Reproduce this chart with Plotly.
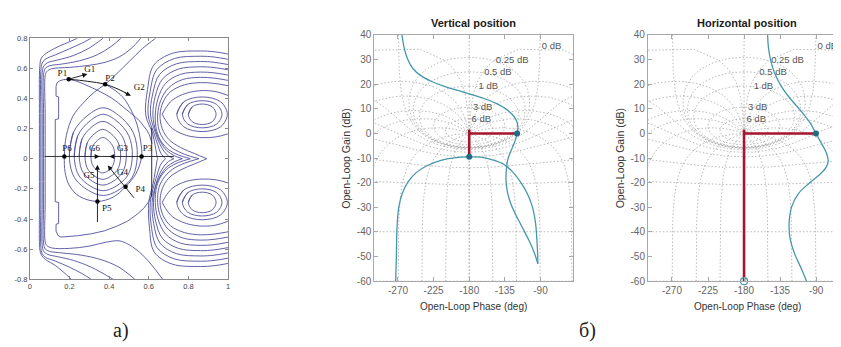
import numpy as np
import plotly.graph_objects as go

W, H = 841, 347

# ====================== panel a): flux contours ======================
bundle_lines = [
    ([0.21, 0.13, 0.08, 0.058, 0.05, 0.048, 0.048, 0.048, 0.048, 0.048, 0.05, 0.057, 0.082, 0.14, 0.207, 0.241],
     [-0.8, -0.71, -0.67, -0.64, -0.6, -0.55, -0.3, 0.0, 0.3, 0.55, 0.612, 0.666, 0.699, 0.742, 0.78, 0.8]),
    ([0.31, 0.26, 0.2, 0.13, 0.08, 0.062, 0.055, 0.055, 0.055, 0.055, 0.055, 0.062, 0.08, 0.13, 0.2, 0.26, 0.31],
     [-0.8, -0.76, -0.72, -0.68, -0.655, -0.63, -0.58, -0.3, 0.0, 0.3, 0.58, 0.635, 0.662, 0.69, 0.73, 0.765, 0.8]),
    ([0.42, 0.31, 0.22, 0.14, 0.09, 0.07, 0.062, 0.062, 0.062, 0.062, 0.062, 0.07, 0.09, 0.14, 0.22, 0.3, 0.37],
     [-0.8, -0.72, -0.675, -0.65, -0.635, -0.615, -0.57, -0.3, 0.0, 0.3, 0.57, 0.615, 0.638, 0.655, 0.685, 0.735, 0.8]),
    ([0.53, 0.45, 0.36, 0.26, 0.16, 0.1, 0.078, 0.069, 0.069, 0.069, 0.069, 0.069, 0.078, 0.1, 0.16, 0.25, 0.34, 0.41, 0.46],
     [-0.8, -0.72, -0.67, -0.64, -0.625, -0.615, -0.6, -0.56, -0.3, 0.0, 0.3, 0.56, 0.6, 0.617, 0.628, 0.65, 0.69, 0.745, 0.8]),
    ([0.67, 0.63, 0.57, 0.5, 0.45, 0.38, 0.3, 0.2, 0.11, 0.085, 0.077, 0.077, 0.077, 0.077, 0.077, 0.085, 0.11, 0.2, 0.3, 0.38, 0.45, 0.51, 0.56],
     [-0.8, -0.73, -0.64, -0.57, -0.545, -0.555, -0.58, -0.595, -0.592, -0.575, -0.55, -0.3, 0.0, 0.3, 0.55, 0.578, 0.597, 0.606, 0.62, 0.64, 0.675, 0.73, 0.8]),
]

plasma_loops = [
    ([0.308, 0.315, 0.341, 0.368, 0.395, 0.421, 0.428, 0.416, 0.368, 0.320, 0.308],
     [0.013, 0.077, 0.122, 0.141, 0.122, 0.077, 0.013, -0.051, -0.094, -0.051, 0.013]),
    ([0.278, 0.289, 0.328, 0.368, 0.408, 0.447, 0.458, 0.440, 0.368, 0.296, 0.278],
     [0.013, 0.104, 0.168, 0.195, 0.168, 0.104, 0.013, -0.077, -0.137, -0.077, 0.013]),
    ([0.249, 0.263, 0.314, 0.368, 0.422, 0.473, 0.487, 0.463, 0.368, 0.273, 0.249],
     [0.013, 0.131, 0.213, 0.248, 0.213, 0.131, 0.013, -0.100, -0.175, -0.100, 0.013]),
    ([0.224, 0.242, 0.305, 0.370, 0.436, 0.499, 0.517, 0.488, 0.370, 0.253, 0.224],
     [0.013, 0.154, 0.253, 0.295, 0.253, 0.154, 0.013, -0.122, -0.212, -0.122, 0.013]),
    ([0.199, 0.220, 0.293, 0.370, 0.447, 0.521, 0.542, 0.507, 0.370, 0.233, 0.199],
     [0.013, 0.176, 0.289, 0.338, 0.289, 0.176, 0.013, -0.141, -0.244, -0.141, 0.013]),
]

separatrix_x = [0.635, 0.569, 0.502, 0.435, 0.380, 0.326, 0.268, 0.217, 0.184, 0.174, 0.178, 0.20, 0.25,
                0.341, 0.42, 0.483, 0.535, 0.564, 0.56, 0.543, 0.51, 0.468, 0.418, 0.380]
separatrix_y = [0.8, 0.732, 0.646, 0.56, 0.494, 0.443, 0.368, 0.282, 0.154, 0.015, -0.09, -0.18, -0.25,
                -0.283, -0.255, -0.186, -0.1, 0.015, 0.11, 0.218, 0.325, 0.41, 0.464, 0.494]

vessel_x = [0.617, 0.6, 0.575, 0.535, 0.492, 0.435, 0.375, 0.31, 0.241, 0.19, 0.157, 0.142, 0.134,
            0.132, 0.132, 0.145, 0.145, 0.128, 0.128, 0.145, 0.145, 0.132, 0.132, 0.137, 0.15, 0.17,
            0.196, 0.235, 0.27, 0.305, 0.34, 0.375, 0.41, 0.44, 0.47, 0.5, 0.53, 0.555, 0.575, 0.59,
            0.603, 0.612, 0.617]
vessel_y = [-0.235, -0.285, -0.329, -0.375, -0.415, -0.45, -0.479, -0.498, -0.511, -0.518, -0.52, -0.51, -0.49,
            -0.48, -0.435, -0.43, -0.29, -0.285, 0.26, 0.265, 0.41, 0.415, 0.48, 0.503, 0.517, 0.525,
            0.528, 0.515, 0.497, 0.477, 0.455, 0.431, 0.405, 0.377, 0.346, 0.314, 0.28, 0.25, 0.22, 0.19,
            0.16, 0.13, 0.1]

coil_loops = [
    ([0.80, 0.82, 0.87, 0.92, 0.94, 0.92, 0.87, 0.82, 0.80], [0.295, 0.345, 0.363, 0.345, 0.295, 0.245, 0.227, 0.245, 0.295]),
    ([0.77, 0.797, 0.87, 0.943, 0.97, 0.943, 0.87, 0.797, 0.77], [0.295, 0.36, 0.385, 0.36, 0.295, 0.23, 0.205, 0.23, 0.295]),
    ([0.742, 0.777, 0.87, 0.963, 0.997, 0.963, 0.87, 0.777, 0.742], [0.295, 0.378, 0.41, 0.378, 0.295, 0.212, 0.18, 0.212, 0.295]),
    ([0.80, 0.82, 0.87, 0.92, 0.94, 0.92, 0.87, 0.82, 0.80], [-0.29, -0.24, -0.222, -0.24, -0.29, -0.34, -0.358, -0.34, -0.29]),
    ([0.77, 0.797, 0.87, 0.943, 0.97, 0.943, 0.87, 0.797, 0.77], [-0.29, -0.225, -0.2, -0.225, -0.29, -0.355, -0.38, -0.355, -0.29]),
    ([0.742, 0.777, 0.87, 0.963, 0.997, 0.963, 0.87, 0.777, 0.742], [-0.29, -0.207, -0.175, -0.207, -0.29, -0.373, -0.405, -0.373, -0.29]),
]

cusp_lines = [
    ([1.0, 0.94, 0.87, 0.79, 0.72, 0.685, 0.668], [0.42, 0.445, 0.452, 0.435, 0.39, 0.335, 0.295]),
    ([0.668, 0.685, 0.72, 0.79, 0.87, 0.94, 1.0], [0.295, 0.255, 0.2, 0.155, 0.14, 0.145, 0.165]),
    ([0.668, 0.685, 0.72, 0.79, 0.87, 0.94, 1.0], [-0.29, -0.25, -0.195, -0.15, -0.135, -0.14, -0.16]),
    ([1.0, 0.94, 0.87, 0.79, 0.72, 0.685, 0.668], [-0.415, -0.44, -0.447, -0.43, -0.385, -0.33, -0.29]),
]

peanut_lines = [
    ([1.0, 0.93, 0.86, 0.78, 0.71, 0.672, 0.657, 0.668, 0.70, 0.76, 0.83, 0.893],
     [0.485, 0.5, 0.505, 0.49, 0.445, 0.375, 0.29, 0.2, 0.13, 0.075, 0.035, 0.0]),
    ([1.0, 0.93, 0.86, 0.77, 0.70, 0.66, 0.645, 0.652, 0.68, 0.72, 0.78, 0.853],
     [0.52, 0.535, 0.54, 0.525, 0.47, 0.385, 0.29, 0.19, 0.12, 0.07, 0.03, 0.0]),
    ([1.0, 0.93, 0.86, 0.76, 0.685, 0.647, 0.633, 0.64, 0.665, 0.70, 0.75, 0.81],
     [0.555, 0.57, 0.575, 0.56, 0.5, 0.4, 0.29, 0.185, 0.11, 0.06, 0.025, 0.0]),
    ([1.0, 0.93, 0.86, 0.75, 0.67, 0.633, 0.621, 0.636, 0.662, 0.69, 0.73, 0.77],
     [0.59, 0.605, 0.61, 0.595, 0.53, 0.415, 0.29, 0.18, 0.105, 0.055, 0.02, 0.0]),
    ([1.0, 0.93, 0.86, 0.74, 0.655, 0.62, 0.609, 0.633, 0.655, 0.677, 0.70, 0.727],
     [0.625, 0.64, 0.645, 0.63, 0.56, 0.43, 0.29, 0.175, 0.1, 0.05, 0.018, 0.0]),
    ([1.0, 0.93, 0.86, 0.73, 0.64, 0.607, 0.597, 0.626, 0.645, 0.658, 0.673, 0.685],
     [0.66, 0.675, 0.68, 0.665, 0.59, 0.445, 0.29, 0.17, 0.095, 0.045, 0.015, 0.0]),
    ([1.0, 0.93, 0.86, 0.72, 0.625, 0.594, 0.585, 0.62, 0.632, 0.638, 0.642, 0.645],
     [0.695, 0.71, 0.715, 0.7, 0.62, 0.46, 0.29, 0.165, 0.09, 0.045, 0.012, 0.0]),
    ([0.893, 0.83, 0.76, 0.70, 0.668, 0.657, 0.672, 0.71, 0.78, 0.86, 0.93, 1.0],
     [0.0, -0.035, -0.075, -0.13, -0.2, -0.29, -0.375, -0.445, -0.49, -0.505, -0.5, -0.485]),
    ([0.853, 0.78, 0.72, 0.68, 0.652, 0.645, 0.66, 0.70, 0.77, 0.86, 0.93, 1.0],
     [0.0, -0.03, -0.07, -0.12, -0.19, -0.29, -0.385, -0.47, -0.525, -0.54, -0.535, -0.52]),
    ([0.81, 0.75, 0.70, 0.665, 0.64, 0.633, 0.647, 0.685, 0.76, 0.86, 0.93, 1.0],
     [0.0, -0.025, -0.06, -0.11, -0.185, -0.29, -0.4, -0.5, -0.56, -0.575, -0.57, -0.555]),
    ([0.77, 0.73, 0.69, 0.662, 0.636, 0.624, 0.635, 0.67, 0.75, 0.86, 0.93, 1.0],
     [0.0, -0.02, -0.055, -0.105, -0.18, -0.29, -0.415, -0.53, -0.595, -0.61, -0.605, -0.59]),
    ([0.727, 0.70, 0.677, 0.655, 0.635, 0.617, 0.625, 0.657, 0.74, 0.86, 0.93, 1.0],
     [0.0, -0.018, -0.05, -0.1, -0.175, -0.29, -0.43, -0.56, -0.63, -0.645, -0.64, -0.625]),
    ([0.685, 0.673, 0.658, 0.645, 0.628, 0.608, 0.613, 0.642, 0.73, 0.86, 0.93, 1.0],
     [0.0, -0.015, -0.045, -0.095, -0.17, -0.29, -0.445, -0.59, -0.665, -0.68, -0.675, -0.66]),
    ([0.645, 0.642, 0.638, 0.632, 0.622, 0.6, 0.604, 0.628, 0.72, 0.86, 0.93, 1.0],
     [0.0, -0.012, -0.045, -0.09, -0.165, -0.29, -0.46, -0.62, -0.7, -0.715, -0.71, -0.695]),
]

# black guide lines / trajectory
guide_lines = [
    ([0.075, 0.727], [0.015, 0.015]),
    ([0.615, 0.615], [0.205, -0.25]),
]
traj_arc_x = [0.196, 0.29, 0.38, 0.445, 0.505]
traj_arc_y = [0.528, 0.514, 0.494, 0.462, 0.422]

point_x = [0.196, 0.38, 0.564, 0.483, 0.341, 0.174]
point_y = [0.528, 0.494, 0.015, -0.186, -0.283, 0.015]

label_text = ["P1", "P2", "P3", "P4", "P5", "P6", "G1", "G2", "G3", "G4", "G5", "G6"]
label_x = [0.164, 0.405, 0.594, 0.557, 0.388, 0.187, 0.302, 0.552, 0.468, 0.468, 0.298, 0.326]
label_y = [0.565, 0.528, 0.064, -0.205, -0.334, 0.064, 0.592, 0.47, 0.064, -0.096, -0.113, 0.064]

# arrows: (head_x, head_y, tail_x, tail_y)
arrow_head_x = [0.29, 0.51, 0.352, 0.401, 0.341, 0.393]
arrow_head_y = [0.562, 0.418, 0.015, 0.015, -0.04, -0.045]
arrow_tail_x = [0.196, 0.47, 0.325, 0.43, 0.341, 0.532]
arrow_tail_y = [0.528, 0.443, 0.015, 0.015, -0.43, -0.27]

ax_ticks_a = [0, 0.2, 0.4, 0.6, 0.8, 1]
ax_ticktext_a = ["0", "0.2", "0.4", "0.6", "0.8", "1"]
ay_ticks_a = [-0.8, -0.6, -0.4, -0.2, 0, 0.2, 0.4, 0.6, 0.8]
ay_ticktext_a = ["-0.8", "-0.6", "-0.4", "-0.2", "0", "0.2", "0.4", "0.6", "0.8"]

# ====================== panel б): Nichols plots ======================
vert_phase = [-265.0, -262.5, -258.3, -251.2, -240.7, -228.1, -211.4, -194.7, -177.9, -161.2, -146.5, -133.9,
              -125.6, -120.1, -118.5, -119.5,
              -121.8, -126.8, -131.4, -133.1, -133.5, -131.8, -127.7, -121.4, -113.0, -104.6, -98.3, -93.3,
              -93.7, -94.6, -96.3, -100.4, -106.7, -115.1, -124.3, -136.0, -150.7, -165.3, -180.0,
              -198.8, -215.6, -232.3, -247.0, -257.5, -264.6, -268.8, -270.9, -271.7, -272.1, -273.0]
vert_gain = [40.0, 35.2, 30.6, 26.4, 23.4, 21.2, 19.1, 17.5, 15.9, 14.2, 12.3, 10.0,
             7.7, 5.1, 2.4, 0.0,
             -2.8, -6.7, -10.7, -14.6, -19.2, -23.7, -28.3, -32.9, -38.1, -43.4, -48.0, -52.9,
             -48.0, -42.7, -36.2, -29.6, -24.4, -19.8, -15.9, -12.6, -10.7, -9.6, -9.5,
             -9.9, -10.9, -12.9, -15.9, -19.8, -24.4, -29.6, -36.2, -42.7, -50.6, -60.5]
vert_tip_index = 27
vert_pm_phase = -119.5
vert_gm_gain = -9.5

hor_phase = [-150.6, -149.4, -146.5, -141.1, -132.8, -122.5, -110.1, -97.7, -90.2, -83.2, -77.0, -74.9,
             -77.8, -87.3, -99.7, -112.1, -120.4, -123.7, -122.5, -116.3, -108.0, -101.6]
hor_gain = [40.0, 34.5, 29.3, 24.0, 18.8, 14.2, 9.6, 4.4, 0.0, -4.1, -8.0, -11.3,
            -13.9, -17.2, -20.5, -24.4, -29.6, -36.2, -42.7, -49.3, -55.2, -60.3]
hor_pm_phase = -90.2

# Nichols grid definition (closed-loop magnitude in dB, closed-loop phase in deg)
ngrid_mag_db = [6, 3, 1, 0.5, 0.25, 0, -1, -3, -6, -12, -20, -40, -60]
ngrid_phase_deg = [1, 5, 10, 20, 30, 50, 90, 120, 150, 180]
ngrid_label_text = ["0 dB", "0.25 dB", "0.5 dB", "1 dB", "3 dB", "6 dB"]
ngrid_label_phase = [-76.0, -125.7, -143.8, -155.8, -163.0, -164.8]
ngrid_label_gain = [35.2, 29.5, 24.7, 19.0, 10.4, 5.7]

phase_ticks = [-270, -225, -180, -135, -90]
phase_ticktext = ["-270", "-225", "-180", "-135", "-90"]
gain_ticks = [-60, -50, -40, -30, -20, -10, 0, 10, 20, 30, 40]
gain_ticktext = ["-60", "-50", "-40", "-30", "-20", "-10", "0", "10", "20", "30", "40"]

# ====================== helpers ======================
def join(lines, close=False):
    xs, ys = [], []
    for lx, ly in lines:
        lx, ly = list(lx), list(ly)
        if close:
            lx = lx + [lx[1]]
            ly = ly + [ly[1]]
        xs += lx + [None]
        ys += ly + [None]
    return xs, ys


def nichols_grid():
    gx, gy = [], []
    for mdb in ngrid_mag_db:
        M = 10 ** (mdb / 20.0)
        phi = np.linspace(-2 * np.pi, 0, 1441)
        if mdb == 0:
            phi = phi[1:-1]
        T = M * np.exp(1j * phi)
        G = T / (1 - T)
        g = 20 * np.log10(np.abs(G))
        ph = np.degrees(np.unwrap(np.angle(G)))
        k = int(np.argmin(g))
        ph = ph + np.round((-180 - ph[k]) / 360.0) * 360
        g = np.clip(g, -200, 200)
        gx += ph.tolist() + [None]
        gy += g.tolist() + [None]
    for p in ngrid_phase_deg:
        m = np.logspace(-3.5, 4, 900)
        T = m * np.exp(-1j * np.radians(p))
        G = T / (1 - T)
        g = 20 * np.log10(np.abs(G))
        ph = np.degrees(np.unwrap(np.angle(G)))
        ph = ph + np.round((-p - ph[0]) / 360.0) * 360
        for branch in (ph, -360 - ph):
            gx += branch.tolist() + [None]
            gy += g.tolist() + [None]
    gx += [-180, -180, None]
    gy += [0, 100, None]
    return gx, gy


fig = go.Figure()

BLUE = "#50509e"
# ---------- panel a) traces ----------
ox, oy = join(bundle_lines + [(separatrix_x, separatrix_y)] + peanut_lines + cusp_lines)
fig.add_trace(go.Scatter(x=ox, y=oy, mode="lines", line=dict(color=BLUE, width=0.9, shape="spline", smoothing=1.0),
                         hoverinfo="skip", xaxis="x", yaxis="y"))
cx, cy = join(plasma_loops + coil_loops, close=True)
fig.add_trace(go.Scatter(x=cx, y=cy, mode="lines", line=dict(color=BLUE, width=0.9, shape="spline", smoothing=1.0),
                         hoverinfo="skip", xaxis="x", yaxis="y"))
fig.add_trace(go.Scatter(x=vessel_x, y=vessel_y, mode="lines", line=dict(color=BLUE, width=0.9),
                         hoverinfo="skip", xaxis="x", yaxis="y"))
gxl, gyl = join(guide_lines)
fig.add_trace(go.Scatter(x=gxl, y=gyl, mode="lines", line=dict(color="#1a1a1a", width=0.9),
                         hoverinfo="skip", xaxis="x", yaxis="y"))
fig.add_trace(go.Scatter(x=traj_arc_x, y=traj_arc_y, mode="lines",
                         line=dict(color="#1a1a1a", width=1.0, shape="spline"),
                         hoverinfo="skip", xaxis="x", yaxis="y"))
fig.add_trace(go.Scatter(x=point_x, y=point_y, mode="markers", marker=dict(color="black", size=4.5),
                         hoverinfo="skip", xaxis="x", yaxis="y"))
fig.add_trace(go.Scatter(x=label_x, y=label_y, mode="text", text=label_text,
                         textfont=dict(family="Liberation Serif, Times New Roman, serif", size=9, color="#111"),
                         hoverinfo="skip", xaxis="x", yaxis="y"))

annotations = []
for hx, hy, tx, ty in zip(arrow_head_x, arrow_head_y, arrow_tail_x, arrow_tail_y):
    annotations.append(dict(x=hx, y=hy, ax=tx, ay=ty, xref="x", yref="y", axref="x", ayref="y",
                            showarrow=True, arrowhead=2, arrowsize=1.1, arrowwidth=0.9, arrowcolor="#111",
                            text=""))

# ---------- panel б) traces ----------
GRID = "rgba(150,150,150,0.75)"
TEAL = "#4597aa"
DOT = "#1e6c88"
RED = "#a3162e"
grid_x, grid_y = nichols_grid()

for xa, ya in (("x2", "y2"), ("x3", "y3")):
    fig.add_trace(go.Scatter(x=grid_x, y=grid_y, mode="lines",
                             line=dict(color=GRID, width=0.9, dash="1.5px,2px"),
                             hoverinfo="skip", xaxis=xa, yaxis=ya))
    fig.add_trace(go.Scatter(x=ngrid_label_phase, y=ngrid_label_gain, mode="text", text=ngrid_label_text,
                             textfont=dict(family="Liberation Sans, Arial", size=9.5, color="#555"),
                             hoverinfo="skip", xaxis=xa, yaxis=ya))

# vertical position
fig.add_trace(go.Scatter(x=[-180, vert_pm_phase, None, -180, -180], y=[0, 0, None, 1.5, vert_gm_gain],
                         mode="lines", line=dict(color=RED, width=2.6), hoverinfo="skip", xaxis="x2", yaxis="y2"))
vx = vert_phase[:vert_tip_index + 1] + [None] + vert_phase[vert_tip_index:]
vy = vert_gain[:vert_tip_index + 1] + [None] + vert_gain[vert_tip_index:]
fig.add_trace(go.Scatter(x=vx, y=vy, mode="lines", line=dict(color=TEAL, width=1.3, shape="spline"),
                         hoverinfo="skip", xaxis="x2", yaxis="y2"))
fig.add_trace(go.Scatter(x=[vert_pm_phase, -180], y=[0, vert_gm_gain], mode="markers",
                         marker=dict(color=DOT, size=6), hoverinfo="skip", xaxis="x2", yaxis="y2"))

# horizontal position
fig.add_trace(go.Scatter(x=[-180, hor_pm_phase, None, -180, -180], y=[0, 0, None, 1.5, -60],
                         mode="lines", line=dict(color=RED, width=2.6), hoverinfo="skip", xaxis="x3", yaxis="y3"))
fig.add_trace(go.Scatter(x=hor_phase, y=hor_gain, mode="lines", line=dict(color=TEAL, width=1.3, shape="spline"),
                         hoverinfo="skip", xaxis="x3", yaxis="y3"))
fig.add_trace(go.Scatter(x=[hor_pm_phase], y=[0], mode="markers",
                         marker=dict(color=DOT, size=6), hoverinfo="skip", xaxis="x3", yaxis="y3"))
fig.add_trace(go.Scatter(x=[-180], y=[-60], mode="markers", cliponaxis=False,
                         marker=dict(color="rgba(0,0,0,0)", size=7, line=dict(color=TEAL, width=1.2)),
                         hoverinfo="skip", xaxis="x3", yaxis="y3"))

# ---------- text annotations (paper coordinates from pixel positions) ----------
def pp(xp, yp):
    return xp / W, 1 - yp / H

SANS = "Liberation Sans, Arial, sans-serif"
for txt, (xp, yp), kw in [
    ("<b>Vertical position</b>", (466, 10), dict(size=11, color="#1a1a1a")),
    ("<b>Horizontal position</b>", (741, 10), dict(size=11, color="#1a1a1a")),
    ("Open-Loop Phase (deg)", (466, 303), dict(size=10, color="#333")),
    ("Open-Loop Phase (deg)", (741, 303), dict(size=10, color="#333")),
]:
    x0, y0 = pp(xp, yp)
    annotations.append(dict(x=x0, y=y0, xref="paper", yref="paper", text=txt, showarrow=False,
                            font=dict(family=SANS, **kw), xanchor="center", yanchor="middle"))
for xp in (338, 613):
    x0, y0 = pp(xp, 150)
    annotations.append(dict(x=x0, y=y0, xref="paper", yref="paper", text="Open-Loop Gain (dB)", showarrow=False,
                            textangle=-90, font=dict(family=SANS, size=10.5, color="#333"),
                            xanchor="center", yanchor="middle"))
for txt, xp in (("а)", 112), ("б)", 580)):
    x0, y0 = pp(xp, 328)
    annotations.append(dict(x=x0, y=y0, xref="paper", yref="paper", text=txt, showarrow=False,
                            font=dict(family="Liberation Serif, Times New Roman, serif", size=20, color="#222"),
                            xanchor="center", yanchor="middle"))

# ---------- axes ----------
axis_a = dict(showline=True, mirror="ticks", linecolor="#8a8a8a", linewidth=1, ticks="inside", ticklen=3,
              tickcolor="#8a8a8a", showgrid=False, zeroline=False,
              tickfont=dict(family=SANS, size=7.5, color="#444"))
axis_n = dict(showline=True, mirror="ticks", linecolor="#a8a8a8", linewidth=1, ticks="inside", ticklen=4,
              tickcolor="#a8a8a8", showgrid=False, zeroline=False,
              tickfont=dict(family=SANS, size=10, color="#666"))

fig.update_layout(
    width=W, height=H, margin=dict(l=0, r=0, t=0, b=0),
    paper_bgcolor="white", plot_bgcolor="white", showlegend=False,
    annotations=annotations,
    xaxis=dict(domain=[20 / W, 219 / W], range=[0, 1], tickvals=ax_ticks_a, ticktext=ax_ticktext_a,
               anchor="y", **axis_a),
    yaxis=dict(domain=[1 - 275 / H, 1 - 26 / H], range=[-0.8, 0.8], tickvals=ay_ticks_a, ticktext=ay_ticktext_a,
               anchor="x", **axis_a),
    xaxis2=dict(domain=[366 / W, 566 / W], range=[-300, -48.5], tickvals=phase_ticks, ticktext=phase_ticktext,
                anchor="y2", **axis_n),
    yaxis2=dict(domain=[1 - 277 / H, 1 - 22.7 / H], range=[-60, 40], tickvals=gain_ticks, ticktext=gain_ticktext,
                anchor="x2", **axis_n),
    xaxis3=dict(domain=[641 / W, 840 / W], range=[-300, -52.7], tickvals=phase_ticks, ticktext=phase_ticktext,
                anchor="y3", **axis_n),
    yaxis3=dict(domain=[1 - 277 / H, 1 - 22.7 / H], range=[-60, 40], tickvals=gain_ticks, ticktext=gain_ticktext,
                anchor="x3", **axis_n),
)

fig.write_html("out.html", config={"displayModeBar": False})
